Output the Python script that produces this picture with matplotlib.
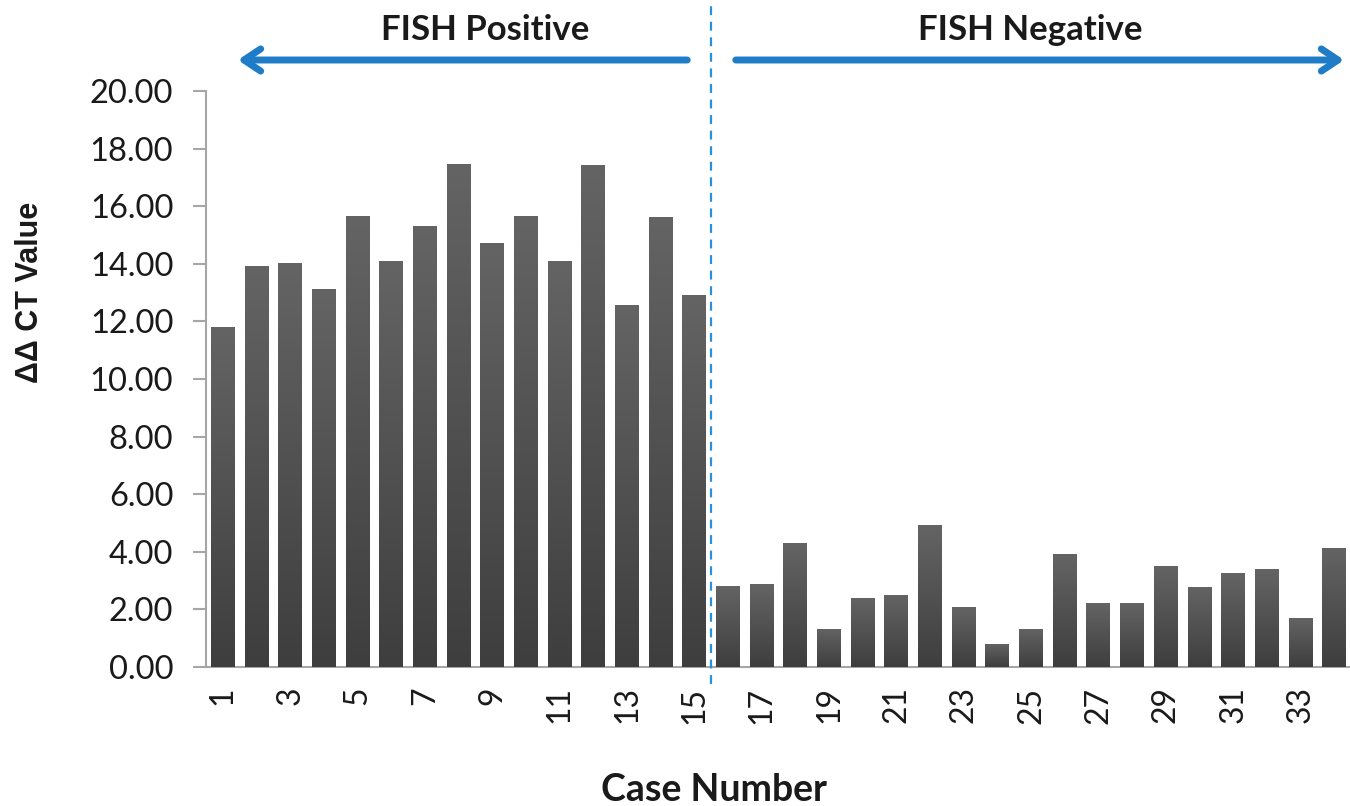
import matplotlib
matplotlib.use("Agg")
import matplotlib.pyplot as plt
import numpy as np
from matplotlib.colors import LinearSegmentedColormap

cases = list(range(1, 35))
values = [11.81, 13.91, 14.02, 13.11, 15.67, 14.11, 15.30, 17.47, 14.71, 15.67,
          14.11, 17.43, 12.56, 15.64, 12.93,
          2.81, 2.88, 4.32, 1.33, 2.38, 2.49, 4.92, 2.09, 0.80, 1.33,
          3.92, 2.22, 2.22, 3.52, 2.79, 3.25, 3.39, 1.69, 4.12]
xtick_labels = [str(c) for c in range(1, 34, 2)]
yticks = [0, 2, 4, 6, 8, 10, 12, 14, 16, 18, 20]
group_labels = ["FISH Positive", "FISH Negative"]

plt.rcParams['font.family'] = ['Lato', 'DejaVu Sans']

W, H = 1350, 806
fig = plt.figure(figsize=(W / 100, H / 100), dpi=100)
fig.patch.set_facecolor('white')
left_px, right_px, bottom_px, top_px = 206, 1351, 667, 91
ax = fig.add_axes([left_px / W, 1 - bottom_px / H, (right_px - left_px) / W, (bottom_px - top_px) / H])

bars = ax.bar(cases, values, width=0.71, color='#555555', edgecolor='none', zorder=2)
cmap = LinearSegmentedColormap.from_list('g', ['#3e3e3e', '#646464'])
grad = np.linspace(0, 1, 256).reshape(-1, 1)
for b in bars:
    x0, w, h = b.get_x(), b.get_width(), b.get_height()
    im = ax.imshow(grad, extent=[x0, x0 + w, 0, h], origin='lower', aspect='auto',
                   cmap=cmap, zorder=3)
    im.set_clip_path(b)

ax.set_xlim(0.5, 34.5)
ax.set_ylim(0, 20)
ax.set_yticks(yticks)
ax.set_yticklabels([f"{v:.2f}" for v in yticks], fontsize=23.5, color='#1a1a1a')
ax.set_xticks(list(range(1, 34, 2)))
ax.set_xticklabels(xtick_labels, rotation=90, fontsize=23, color='#1a1a1a')
ax.tick_params(axis='x', length=0, pad=14)
ax.tick_params(axis='y', length=9.5, width=1.5, color='#a6a6a6', direction='out', pad=14)
for s in ['top', 'right']:
    ax.spines[s].set_visible(False)
for s in ['left', 'bottom']:
    ax.spines[s].set_color('#a6a6a6')
    ax.spines[s].set_linewidth(1.5)

fig.text(30 / W, 1 - 292 / H, "ΔΔ CT Value", fontsize=22, fontweight='bold', rotation=90,
         ha='center', va='center', color='#1a1a1a', family=['Liberation Sans', 'DejaVu Sans'])
fig.text(714 / W, 1 - 790 / H, "Case Number", fontsize=27, fontweight='bold',
         ha='center', va='center', color='#1a1a1a')

# divider
ax_h = (bottom_px - top_px) / H
ymax = (1 - (1 - bottom_px / H)) / ax_h
ymin = ((1 - 684 / H) - (1 - bottom_px / H)) / ax_h
ax.axvline(15.5, ymin=ymin, ymax=ymax, color='#2a8fdc', lw=1.6, ls=(0, (4, 3)), clip_on=False, zorder=5)

arrow_y = 1 - 60 / H
blue = '#1f7cc6'
fig.add_artist(matplotlib.patches.FancyArrowPatch((690 / W, arrow_y), (235 / W, arrow_y),
               transform=fig.transFigure, arrowstyle='->,head_length=12,head_width=8',
               color=blue, lw=5, mutation_scale=1, capstyle='round'))
fig.add_artist(matplotlib.patches.FancyArrowPatch((733 / W, arrow_y), (1347 / W, arrow_y),
               transform=fig.transFigure, arrowstyle='->,head_length=12,head_width=8',
               color=blue, lw=5, mutation_scale=1, capstyle='round'))
fig.text(485 / W, 1 - 30 / H, group_labels[0], fontsize=25, fontweight='bold',
         ha='center', va='center', color='#1a1a1a')
fig.text(1030 / W, 1 - 30 / H, group_labels[1], fontsize=25, fontweight='bold',
         ha='center', va='center', color='#1a1a1a')

fig.savefig("out.png", dpi=100, facecolor='white')
